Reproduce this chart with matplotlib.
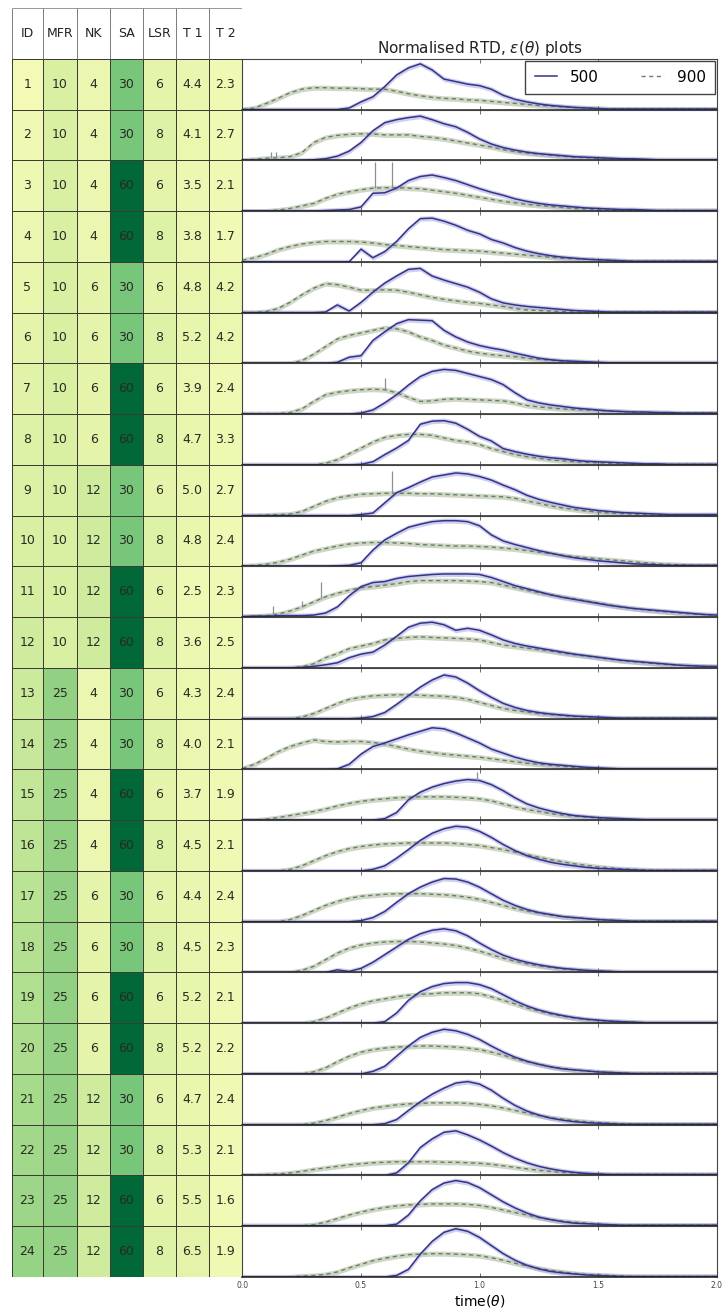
"""Design table and normalised RTD curves for the 24 reactor runs."""
import matplotlib
matplotlib.use("Agg")  # headless backend
import matplotlib.pyplot as plt
import numpy as np
from matplotlib.colors import Normalize

# ---- design table -------------------------------------------------------
columns = ["ID", "MFR", "NK", "SA", "LSR", "T 1", "T 2"]
run_id = list(range(1, 25))
mfr = [10] * 12 + [25] * 12
nk = [4, 4, 4, 4, 6, 6, 6, 6, 12, 12, 12, 12] * 2
sa = [30, 30, 60, 60] * 6
lsr = [6, 8] * 12
t1 = [4.4, 4.1, 3.5, 3.8, 4.8, 5.2, 3.9, 4.7, 5.0, 4.8, 2.5, 3.6,
      4.3, 4.0, 3.7, 4.5, 4.4, 4.5, 5.2, 5.2, 4.7, 5.3, 5.5, 6.5]
t2 = [2.3, 2.7, 2.1, 1.7, 4.2, 4.2, 2.4, 3.3, 2.7, 2.4, 2.3, 2.5,
      2.4, 2.1, 1.9, 2.1, 2.4, 2.3, 2.1, 2.2, 2.4, 2.1, 1.6, 1.9]

# ---- RTD curves, e(theta) sampled every 0.05 theta (0 .. 2) -------------
theta = np.arange(41) * 0.05

e500 = [
    [0,0,0,0,0,0,0,0,0,3, 15,25,45,68,82,90,78,60,55,50, 47,40,28,20,15,11,8,6,4,3, 2,1,1,1,1,1,1,1,1,1,1],
    [0,0,0,0,0,0,1,3,8,18, 35,58,74,80,84,87,80,72,66,55, 42,32,25,20,16,13,11,9,7,6, 5,4,3,3,2,1,1,1,1,1,1],
    [0,0,0,0,0,0,0,1,2,3, 8,35,36,45,60,68,71,66,60,52, 44,37,31,24,19,15,12,10,8,6, 5,4,3,3,2,1,1,1,1,1,1],
    [0,0,0,0,0,0,0,0,0,0, 25,8,20,40,65,85,86,80,72,62, 55,44,37,28,21,16,12,9,7,5, 4,3,2,1,1,1,1,1,1,1,1],
    [0,0,0,0,0,0,0,1,15,3, 20,40,58,72,85,87,72,64,57,50, 40,27,19,15,12,10,8,6,4,3, 2,1,1,1,1,1,1,1,1,1,1],
    [0,0,0,0,0,0,0,0,2,12, 15,45,62,78,86,85,84,65,52,42, 35,30,26,20,15,10,7,5,4,3, 2,1,1,1,1,1,1,1,1,1,1],
    [0,0,0,0,0,0,0,0,0,0, 2,8,22,38,57,74,84,88,86,80, 74,68,58,42,28,22,18,15,12,10, 8,6,5,4,4,3,3,2,2,2,2],
    [0,0,0,0,0,0,0,0,0,0, 1,6,20,33,48,80,86,87,82,70, 56,47,32,26,21,17,14,12,9,7, 6,5,4,3,2,2,1,1,1,1,1],
    [0,0,0,0,0,0,0,0,0,0, 2,5,25,45,55,66,76,80,84,82, 77,70,60,51,40,32,26,21,16,13, 10,8,6,5,4,3,2,2,2,2,2],
    [0,0,0,0,0,0,0,0,1,2, 7,32,52,65,77,83,88,90,90,88, 80,62,50,43,37,31,26,21,17,14, 11,9,7,5,4,3,2,2,2,2,2],
    [1,2,2,3,3,3,4,8,20,42, 60,68,70,76,80,82,84,85,85,85, 84,78,70,62,56,50,44,39,35,31, 27,23,20,17,15,13,11,9,7,5,4],
    [0,0,0,0,0,1,3,6,10,20, 27,31,45,62,80,88,90,85,74,78, 74,65,55,48,43,39,35,31,27,24, 21,18,15,13,11,9,7,5,4,3,3],
    [0,0,0,0,0,0,0,0,0,0, 1,4,12,28,45,62,76,86,82,70, 55,42,30,22,16,12,9,7,5,4, 3,2,1,1,1,1,1,1,1,1,1],
    [0,0,0,0,0,0,0,0,1,10, 30,45,52,60,68,75,82,80,72,62, 52,40,32,24,18,13,10,8,6,4, 3,2,1,1,1,1,1,1,1,1,1],
    [0,0,0,0,0,0,0,0,0,0, 0,0,3,15,40,55,65,72,77,80, 78,70,58,44,32,24,18,13,9,7, 5,4,3,2,1,1,1,1,1,1,1],
    [0,0,0,0,0,0,0,0,0,0, 0,3,10,25,42,60,74,83,88,86, 78,66,52,40,30,23,17,13,10,7, 5,4,3,2,1,1,1,1,1,1,1],
    [0,0,0,0,0,0,0,0,0,0, 2,8,20,38,55,68,78,85,84,78, 68,55,42,32,24,18,14,10,8,6, 4,3,2,1,1,1,1,1,1,1,1],
    [0,0,0,0,0,0,0,0,5,2, 8,20,35,50,65,76,83,86,82,72, 58,45,34,26,20,15,11,8,6,4, 3,2,1,1,1,1,1,1,1,1,1],
    [0,0,0,0,0,0,0,0,0,0, 0,0,3,20,45,62,72,78,80,80, 76,68,56,44,34,26,20,15,11,8, 6,4,3,2,1,1,1,1,1,1,1],
    [0,0,0,0,0,0,0,0,0,0, 0,5,15,35,55,72,82,88,85,78, 68,55,43,33,25,19,14,10,8,6, 4,3,2,1,1,1,1,1,1,1,1],
    [0,0,0,0,0,0,0,0,0,0, 0,0,2,10,28,45,60,72,82,85, 80,68,52,38,27,19,13,9,6,4, 3,2,1,1,1,1,1,1,1,1,1],
    [0,0,0,0,0,0,0,0,0,0, 0,0,0,5,25,55,72,85,88,80, 70,58,45,34,25,18,13,9,6,4, 3,2,2,2,2,2,2,2,2,2,2],
    [1,1,1,1,1,1,1,1,1,1, 1,1,1,4,22,50,72,85,90,86, 76,62,48,36,26,18,13,9,6,5, 4,3,2,2,2,2,2,2,2,2,2],
    [0,0,0,0,0,0,0,0,0,0, 0,0,0,3,15,45,70,88,95,90, 78,62,46,33,23,16,11,8,6,4, 3,2,1,1,1,1,1,1,1,1,1],
]

e900 = [
    [0,3,12,22,33,40,43,43,42,42, 41,40,40,36,31,27,24,22,21,19, 18,16,14,12,10,8,7,5,4,3, 2,1,1,1,1,1,1,1,1,1,1],
    [0,2,4,5,7,15,35,45,49,51, 52,52,50,50,50,47,45,42,38,34, 30,26,21,17,14,12,10,8,6,5, 4,3,2,1,1,1,1,1,1,1,1],
    [0,0,0,2,5,10,15,25,33,38, 42,45,46,46,45,44,41,38,35,31, 27,23,19,16,13,11,9,7,5,4, 3,2,1,1,1,1,1,1,1,1,1],
    [3,8,15,24,30,35,38,40,40,40, 39,37,34,32,30,28,26,24,23,22, 21,19,17,15,13,11,9,7,6,5, 4,3,2,1,1,1,1,1,1,1,1],
    [0,0,2,8,20,35,48,57,55,50, 44,44,45,44,40,35,30,26,23,20, 18,15,12,8,5,4,3,2,1,1, 1,1,1,1,1,1,1,1,1,1,1],
    [0,0,0,0,0,5,18,33,48,55, 60,65,70,68,62,52,45,36,30,24, 20,17,15,13,10,8,6,4,3,2, 1,1,1,1,1,1,1,1,1,1,1],
    [1,1,1,1,3,10,25,38,43,46, 48,49,48,42,33,25,26,29,30,29, 28,27,26,22,17,14,12,10,9,8, 7,6,5,4,3,3,2,2,2,2,2],
    [0,0,0,0,0,0,0,3,10,22, 33,45,54,58,60,60,58,53,48,45, 40,32,26,20,16,13,10,8,6,5, 4,3,2,1,1,1,1,1,1,1,1],
    [0,0,1,2,3,8,18,28,35,39, 42,43,44,44,44,43,43,42,41,40, 39,38,37,34,29,24,19,15,12,9, 7,5,4,3,2,1,1,1,1,1,1],
    [1,2,4,8,14,22,30,35,40,44, 46,47,47,46,45,43,42,41,40,40, 39,38,36,34,31,28,25,22,19,17, 15,13,11,9,7,5,4,3,2,2,2],
    [1,2,3,6,12,20,30,40,47,53, 58,60,63,66,70,72,72,72,72,71, 70,68,63,58,53,48,44,40,36,32, 28,24,20,17,14,12,10,8,6,5,4],
    [0,0,0,0,0,2,8,20,28,38, 43,48,55,58,60,61,60,59,58,57, 55,50,45,42,39,36,33,29,26,23, 20,17,14,12,10,8,6,5,4,3,2],
    [0,0,0,0,0,3,10,20,30,38, 42,45,46,47,47,46,45,44,42,38, 32,26,20,16,13,10,8,6,4,3, 2,1,1,1,1,1,1,1,1,1,1],
    [2,10,22,35,45,52,58,55,54,55, 55,53,50,45,40,36,33,30,28,26, 24,21,18,15,12,10,8,6,4,3, 2,1,1,1,1,1,1,1,1,1,1],
    [0,0,2,5,9,13,17,22,28,33, 37,40,42,44,45,46,46,46,45,44, 42,38,32,26,21,17,13,10,8,6, 4,3,2,1,1,1,1,1,1,1,1],
    [0,0,0,0,3,10,20,30,38,44, 48,51,53,54,55,55,55,55,54,52, 50,46,42,37,32,27,22,18,14,11, 8,6,4,3,2,1,1,1,1,1,1],
    [0,0,0,0,4,12,22,32,40,46, 50,52,54,55,55,55,54,53,51,48, 44,38,32,26,21,17,13,10,8,6, 4,3,2,1,1,1,1,1,1,1,1],
    [0,0,0,0,0,4,12,25,38,48, 54,58,60,61,61,60,58,56,53,48, 42,35,28,22,17,13,10,7,5,4, 3,2,1,1,1,1,1,1,1,1,1],
    [0,0,0,0,0,0,3,10,20,30, 38,44,48,52,55,57,58,60,60,60, 58,52,45,38,30,24,18,14,10,7, 5,4,3,2,1,1,1,1,1,1,1],
    [0,0,0,0,0,0,4,12,24,35, 43,48,51,53,54,55,55,54,53,51, 48,43,37,30,24,19,14,11,8,6, 4,3,2,1,1,1,1,1,1,1,1],
    [0,0,0,0,0,0,3,8,15,22, 28,33,36,39,41,42,43,43,43,42, 40,37,33,28,23,18,14,11,8,6, 4,3,2,1,1,1,1,1,1,1,1],
    [1,1,2,3,5,8,12,15,18,21, 23,25,26,27,27,27,27,26,26,25, 24,22,19,16,13,10,8,6,5,4, 3,2,2,2,2,2,2,2,2,2,2],
    [1,1,1,1,1,1,3,8,15,22, 28,33,37,40,42,43,44,44,44,43, 41,37,32,27,22,17,13,10,8,6, 4,3,2,2,2,2,2,2,2,2,2],
    [0,0,0,0,0,2,3,5,10,18, 25,32,37,41,44,45,46,46,45,44, 42,38,33,27,22,17,13,10,7,5, 4,3,2,1,1,1,1,1,1,1,1],
]

# isolated single-replicate peaks: (run index, theta, peak height)
spikes = [
    (1, 0.12, 16), (1, 0.14, 16),
    (2, 0.56, 96), (2, 0.63, 96),
    (6, 0.60, 72),
    (8, 0.63, 88),
    (10, 0.13, 22), (10, 0.25, 32), (10, 0.33, 69),
    (14, 0.99, 95),
]

# half-width of the replicate band around each mean curve
spread_500 = 5.0
spread_900 = 5.0

# ---- layout (pixels) ----------------------------------------------------
W, H = 723, 1312
TABLE_X0, TABLE_X1 = 11.7, 241.7
PLOT_X0, PLOT_X1 = 242.5, 716.5
TOP, BOTTOM = 8.0, 1277.0
n_runs = len(run_id)
row_h = (BOTTOM - TOP) / (n_runs + 1)
col_edges = np.array([0, 31, 65.6, 98.3, 131, 164, 197.3, 230])


def box(x0, y0, x1, y1):
    return [x0 / W, 1 - y1 / H, (x1 - x0) / W, (y1 - y0) / H]


fig = plt.figure(figsize=(W / 100, H / 100), dpi=100)

# ---- table --------------------------------------------------------------
ax_t = fig.add_axes(box(TABLE_X0, TOP, TABLE_X1, BOTTOM))
cells = np.array([run_id, mfr, nk, sa, lsr, t1, t2], dtype=float).T
norm = Normalize(vmin=-10.5, vmax=70.5)
ax_t.pcolormesh(col_edges, np.arange(1, n_runs + 2), cells, cmap="YlGn",
                norm=norm, edgecolors="#3c3c34", linewidth=0.55)
ax_t.vlines(col_edges, 0, 1, color="#666666", lw=0.6)
ax_t.hlines(0, col_edges[0], col_edges[-1], color="#888888", lw=0.6)
ax_t.set_xlim(col_edges[0], col_edges[-1])
ax_t.set_ylim(n_runs + 1, 0)
ax_t.axis("off")

centers = (col_edges[:-1] + col_edges[1:]) / 2
for j, name in enumerate(columns):
    ax_t.text(centers[j], 0.5, name, ha="center", va="center",
              fontsize=9, color="#222222")
for r in range(n_runs):
    row = [run_id[r], mfr[r], nk[r], sa[r], lsr[r], t1[r], t2[r]]
    for j, v in enumerate(row):
        txt = f"{v:.1f}" if isinstance(v, float) else str(v)
        ax_t.text(centers[j], r + 1.5, txt, ha="center", va="center",
                  fontsize=9, color="#2a2a22")

# ---- RTD panels ---------------------------------------------------------
axes = []
for i in range(n_runs):
    top = TOP + row_h * (i + 1)
    ax = fig.add_axes(box(PLOT_X0, top, PLOT_X1, top + row_h))
    axes.append(ax)
    y9 = np.array(e900[i], dtype=float)
    y5 = np.array(e500[i], dtype=float)
    ax.fill_between(theta, np.clip(y9 - spread_900, 0, None), y9 + spread_900,
                    color="#b4c0a8", alpha=0.65, lw=0)
    l9, = ax.plot(theta, y9, color="#6a7f5e", lw=1.0, ls=(0, (3, 2.5)))
    ax.fill_between(theta, np.clip(y5 - spread_500, 0, None), y5 + spread_500,
                    color="#a9a9dd", alpha=0.55, lw=0)
    l5, = ax.plot(theta, y5, color="#33338c", lw=1.1)
    for run, t, h in spikes:
        if run == i:
            base = max(np.interp(t, theta, y5), np.interp(t, theta, y9))
            ax.vlines(t, base, h, color="#8c8f94", lw=0.9)
    ax.set_xlim(0, 2)
    ax.set_ylim(0, 100)
    ax.set_yticks([])
    ax.set_xticks([0, 0.5, 1.0, 1.5, 2.0])
    ax.tick_params(axis="x", direction="in", top=True, length=3, width=0.6,
                   color="#555555", labelbottom=(i == n_runs - 1),
                   labelsize=5.5, labelcolor="#444444", pad=3)
    for sp in ax.spines.values():
        sp.set_color("#444444")
        sp.set_linewidth(0.8)
    ax.spines["bottom"].set_color("#222222")
    ax.spines["bottom"].set_linewidth(1.1)
    if i == 0:
        ax.set_title(r"Normalised RTD, $\epsilon(\theta)$ plots",
                     fontsize=11, pad=4, color="#222222")
        ax.legend([l5, l9], ["500", "900"], loc="upper right", ncol=2,
                  fontsize=11, handlelength=1.5, columnspacing=2.8,
                  borderpad=0.6, borderaxespad=0.12, fancybox=False,
                  edgecolor="#444444", framealpha=1.0)

axes[-1].set_xlabel(r"time($\theta$)", fontsize=10, labelpad=2)

plt.savefig("out.png", dpi=100)
plt.close(fig)
